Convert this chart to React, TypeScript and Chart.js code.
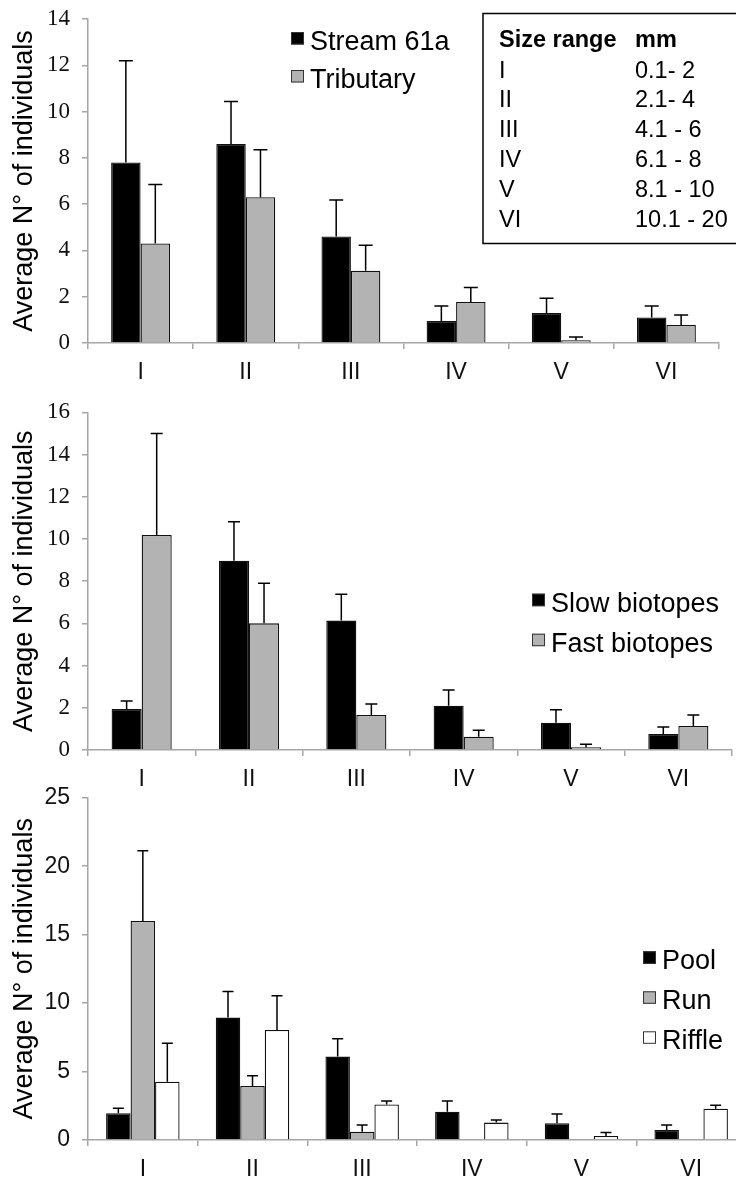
import React, { useEffect, useRef } from "react";
import { Chart, registerables } from "chart.js";

Chart.register(...registerables);

// ---------- data ----------
const sizeClasses = ["I", "II", "III", "IV", "V", "VI"];

// Panel 1: stream vs tributary
const stream61a = [7.8, 8.6, 4.6, 0.95, 1.3, 1.1];
const stream61aSD = [4.4, 1.83, 1.58, 0.65, 0.63, 0.5];
const tributary = [4.3, 6.3, 3.12, 1.77, 0.12, 0.78];
const tributarySD = [2.55, 2.05, 1.1, 0.63, 0.14, 0.43];

// Panel 2: slow vs fast biotopes
const slowBiotopes = [1.94, 8.97, 6.13, 2.1, 1.29, 0.76];
const slowBiotopesSD = [0.38, 1.85, 1.25, 0.74, 0.62, 0.33];
const fastBiotopes = [10.19, 6.0, 1.66, 0.63, 0.13, 1.14];
const fastBiotopesSD = [4.81, 1.9, 0.52, 0.3, 0.14, 0.52];

// Panel 3: pool / run / riffle
const pool = [1.95, 8.94, 6.09, 2.07, 1.22, 0.73];
const poolSD = [0.36, 1.9, 1.31, 0.78, 0.68, 0.37];
const run = [16.0, 3.94, 0.61, 0, 0, 0];
const runSD = [5.13, 0.76, 0.49, 0, 0, 0];
const riffle = [4.26, 8.04, 2.6, 1.27, 0.29, 2.29];
const riffleSD = [2.8, 2.5, 0.25, 0.19, 0.25, 0.24];

// Size range table
const sizeRangeClasses = ["I", "II", "III", "IV", "V", "VI"];
const sizeRangeMm = ["0.1- 2", "2.1- 4", "4.1 - 6", "6.1 - 8", "8.1 - 10", "10.1 - 20"];

const yTitle = "Average N\u00b0 of individuals";

// ---------- styles ----------
const BLACK = "#000000";
const GRAY = "#b3b3b3";
const WHITE = "#ffffff";
const AXIS = "#a6a6a6";
const SANS = "'Liberation Sans', Arial, Helvetica, sans-serif";
const SERIF = "'Liberation Serif', 'Times New Roman', serif";

const errorBarPlugin = {
  id: "errorBars",
  afterDatasetsDraw(chart: any, _args: any, opts: any) {
    const errs = opts.errors || [];
    const cap = opts.cap || 12;
    const ctx = chart.ctx;
    const ys = chart.scales.y;
    ctx.save();
    ctx.strokeStyle = "#000";
    ctx.lineWidth = 1.5;
    chart.data.datasets.forEach((ds: any, i: number) => {
      const meta = chart.getDatasetMeta(i);
      meta.data.forEach((bar: any, j: number) => {
        const e = errs[i] ? errs[i][j] : 0;
        if (!e) return;
        const v = ds.data[j];
        const x = bar.x;
        const y0 = ys.getPixelForValue(v);
        const y1 = ys.getPixelForValue(v + e);
        ctx.beginPath();
        ctx.moveTo(x, y0);
        ctx.lineTo(x, y1);
        ctx.moveTo(x - cap / 2, y1);
        ctx.lineTo(x + cap / 2, y1);
        ctx.stroke();
      });
    });
    ctx.restore();
  },
};

const legendPlugin = {
  id: "boxLegend",
  afterDraw(chart: any, _args: any, opts: any) {
    if (!opts || !opts.items) return;
    const ctx = chart.ctx;
    ctx.save();
    ctx.font = `${opts.size}px ${SANS}`;
    ctx.textBaseline = "alphabetic";
    ctx.textAlign = "left";
    opts.items.forEach((it: any, k: number) => {
      const base = opts.y + k * opts.step;
      ctx.fillStyle = it.color;
      ctx.fillRect(opts.x, base - 18, 13, 12.5);
      ctx.strokeStyle = "#333";
      ctx.lineWidth = 1;
      ctx.strokeRect(opts.x + 0.5, base - 17.5, 12, 11.5);
      ctx.fillStyle = "#000";
      ctx.fillText(it.label, opts.x + 19, base);
    });
    ctx.restore();
  },
};

const sizeTablePlugin = {
  id: "sizeTable",
  afterDraw(chart: any, _args: any, opts: any) {
    if (!opts || !opts.show) return;
    const ctx = chart.ctx;
    ctx.save();
    ctx.strokeStyle = "#000";
    ctx.lineWidth = 1.5;
    ctx.strokeRect(483, 13.5, 270, 230);
    ctx.fillStyle = "#000";
    ctx.textAlign = "left";
    ctx.textBaseline = "alphabetic";
    ctx.font = `bold 23.5px ${SANS}`;
    ctx.fillText("Size range", 499, 47);
    ctx.fillText("mm", 635, 47);
    ctx.font = `23.5px ${SANS}`;
    sizeRangeClasses.forEach((c, k) => {
      const b = 77.5 + k * 29.9;
      ctx.fillText(c, 499, b);
      ctx.fillText(sizeRangeMm[k], 635, b);
    });
    ctx.restore();
  },
};

function makeConfig(p: any) {
  return {
    type: "bar",
    data: {
      labels: sizeClasses,
      datasets: p.datasets.map((d: any) => ({
        label: d.label,
        data: d.data,
        backgroundColor: d.color,
        borderColor: "#111",
        borderWidth: 1.3,
        categoryPercentage: p.catPct,
        barPercentage: 1.0,
      })),
    },
    options: {
      responsive: false,
      animation: false,
      devicePixelRatio: 1,
      layout: { padding: { top: p.padTop, right: p.padRight, left: 0, bottom: 0 } },
      plugins: {
        legend: { display: false },
        tooltip: { enabled: false },
        errorBars: { errors: p.datasets.map((d: any) => d.sd), cap: p.cap },
        boxLegend: p.legend,
        sizeTable: { show: !!p.table },
      },
      scales: {
        x: {
          grid: {
            display: true,
            drawOnChartArea: false,
            drawTicks: true,
            tickLength: 6,
            color: AXIS,
            lineWidth: 1.5,
            offset: true,
          },
          border: { display: true, color: AXIS, width: 1.5 },
          ticks: { font: { family: SANS, size: 23 }, color: "#111", padding: 10, maxRotation: 0 },
          afterFit(s: any) {
            s.height = p.xHeight;
            s.paddingLeft = 0;
            s.paddingRight = 0;
          },
        },
        y: {
          min: 0,
          max: p.max,
          ticks: { stepSize: p.step, font: { family: p.tickFamily, size: p.tickSize }, color: "#111", padding: 12 },
          grid: { drawOnChartArea: false, drawTicks: true, tickLength: 6, color: AXIS, lineWidth: 1.5 },
          border: { display: true, color: AXIS, width: 1.5 },
          title: {
            display: true,
            text: yTitle,
            font: { family: SANS, size: 27 },
            color: "#000",
            padding: { top: 8, bottom: 0 },
          },
          afterFit(s: any) {
            s.width = 88;
            s.paddingTop = 0;
            s.paddingBottom = 0;
          },
        },
      },
    },
    plugins: [errorBarPlugin, legendPlugin, sizeTablePlugin],
  };
}

const panels = [
  {
    top: 0,
    width: 736,
    height: 385,
    padTop: 19,
    padRight: 17,
    xHeight: 42,
    max: 14,
    step: 2,
    tickFamily: SERIF,
    tickSize: 23,
    catPct: 0.56,
    cap: 14,
    table: true,
    datasets: [
      { label: "Stream 61a", data: stream61a, sd: stream61aSD, color: BLACK },
      { label: "Tributary", data: tributary, sd: tributarySD, color: GRAY },
    ],
    legend: {
      x: 291,
      y: 50,
      step: 38,
      size: 27,
      items: [
        { label: "Stream 61a", color: BLACK },
        { label: "Tributary", color: GRAY },
      ],
    },
  },
  {
    top: 385,
    width: 736,
    height: 405,
    padTop: 27.3,
    padRight: 4,
    xHeight: 40,
    max: 16,
    step: 2,
    tickFamily: SERIF,
    tickSize: 23,
    catPct: 0.56,
    cap: 12,
    datasets: [
      { label: "Slow biotopes", data: slowBiotopes, sd: slowBiotopesSD, color: BLACK },
      { label: "Fast biotopes", data: fastBiotopes, sd: fastBiotopesSD, color: GRAY },
    ],
    legend: {
      x: 532,
      y: 611.7 - 385,
      step: 40,
      size: 27,
      items: [
        { label: "Slow biotopes", color: BLACK },
        { label: "Fast biotopes", color: GRAY },
      ],
    },
  },
  {
    top: 780,
    width: 760,
    height: 400,
    padTop: 17.7,
    padRight: 14,
    xHeight: 40,
    max: 25,
    step: 5,
    tickFamily: SANS,
    tickSize: 23,
    catPct: 0.67,
    cap: 11,
    datasets: [
      { label: "Pool", data: pool, sd: poolSD, color: BLACK },
      { label: "Run", data: run, sd: runSD, color: GRAY },
      { label: "Riffle", data: riffle, sd: riffleSD, color: WHITE },
    ],
    legend: {
      x: 643,
      y: 969.3 - 780,
      step: 40,
      size: 27,
      items: [
        { label: "Pool", color: BLACK },
        { label: "Run", color: GRAY },
        { label: "Riffle", color: WHITE },
      ],
    },
  },
];

function Panel({ p }: { p: any }) {
  const ref = useRef<HTMLCanvasElement | null>(null);
  useEffect(() => {
    if (!ref.current) return;
    const chart = new Chart(ref.current, makeConfig(p) as any);
    return () => chart.destroy();
  }, [p]);
  return (
    <canvas
      ref={ref}
      width={p.width}
      height={p.height}
      style={{ position: "absolute", left: 0, top: p.top, width: p.width, height: p.height }}
    />
  );
}

export default function App() {
  return (
    <div
      style={{
        position: "absolute",
        left: 0,
        top: 0,
        width: 736,
        height: 1180,
        overflow: "hidden",
        background: "#fff",
      }}
    >
      {panels.map((p, i) => (
        <Panel key={i} p={p} />
      ))}
    </div>
  );
}
